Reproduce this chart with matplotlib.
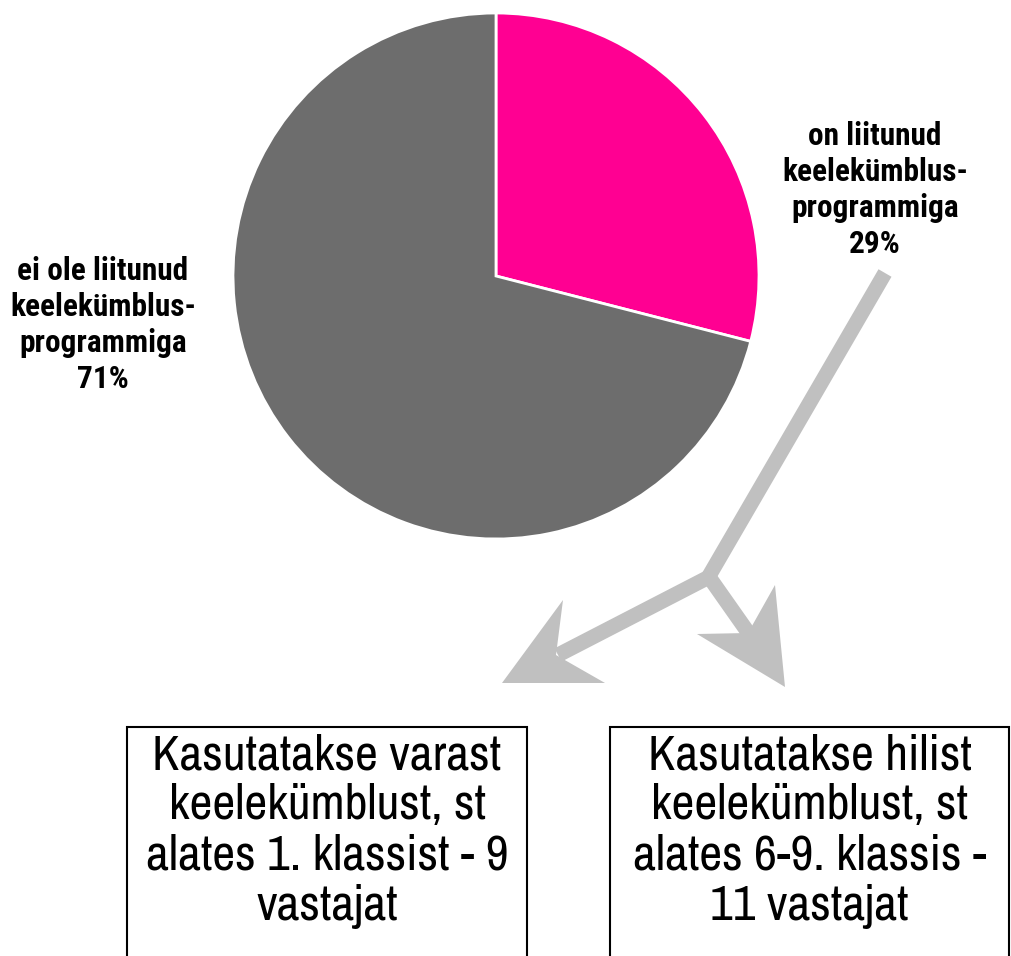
import matplotlib
matplotlib.use("Agg")
import matplotlib.pyplot as plt
from matplotlib.patches import Polygon, Rectangle
import numpy as np

# ---- data ----
categories = ["on liitunud\nkeelekümblus-\nprogrammiga", "ei ole liitunud\nkeelekümblus-\nprogrammiga"]
values = [29, 71]
colors = ["#FF0092", "#6D6D6D"]
box_texts = ["Kasutatakse varast\nkeelekümblust, st\nalates 1. klassist - 9\nvastajat",
             "Kasutatakse hilist\nkeelekümblust, st\nalates 6-9. klassis -\n11 vastajat"]

label_font = ["Roboto Condensed", "DejaVu Sans"]
box_font = ["Archivo Narrow", "DejaVu Sans"]

W, H = 1011, 956
fig = plt.figure(figsize=(W / 100, H / 100), dpi=100)

# overlay axes in pixel coordinates
ov = fig.add_axes([0, 0, 1, 1])
ov.set_xlim(0, W)
ov.set_ylim(H, 0)
ov.axis("off")

# pie axes
cx, cy, r = 496, 276, 263
pax = fig.add_axes([(cx - r) / W, (H - cy - r) / H, 2 * r / W, 2 * r / H])
pax.pie(values, colors=colors, startangle=90, counterclock=False,
        wedgeprops=dict(edgecolor="white", linewidth=2))
pax.set_aspect("equal")
pax.set_xlim(-1, 1)
pax.set_ylim(-1, 1)

# labels
pct = [f"{v}%" for v in values]
ov.text(875, 190, categories[0] + "\n" + pct[0], ha="center", va="center",
        fontsize=22.5, fontweight="bold", family=label_font, linespacing=1.24)
ov.text(103, 325, categories[1] + "\n" + pct[1], ha="center", va="center",
        fontsize=22.5, fontweight="bold", family=label_font, linespacing=1.24)

# arrows
acol = "#C0C0C0"
lw = 15 * 72 / 100
j = (709, 576)
ov.plot([885, j[0]], [273, j[1]], color=acol, lw=lw, solid_capstyle="butt", zorder=1)
ov.plot([j[0] + 2, 558], [j[1], 655], color=acol, lw=lw, solid_capstyle="butt", zorder=1)
ov.plot([j[0] - 2, 752], [j[1] - 2, 638], color=acol, lw=lw, solid_capstyle="butt", zorder=1)
ov.add_patch(Polygon([(502, 683), (563, 600), (556, 655), (605, 683)], closed=True,
                     facecolor=acol, edgecolor="none", zorder=1))
ov.add_patch(Polygon([(785, 687), (775, 585), (748, 633), (697, 634)], closed=True,
                     facecolor=acol, edgecolor="none", zorder=1))

# boxes
for (x0, x1), t in zip([(127, 527), (610, 1009)], box_texts):
    ov.add_patch(Rectangle((x0, 727), x1 - x0, 240, facecolor="white",
                           edgecolor="black", linewidth=1.5, zorder=2))
    ov.text((x0 + x1) / 2, 831, t, ha="center", va="center", fontsize=36,
            family=box_font, linespacing=1.14, zorder=3)

fig.savefig("out.png", dpi=100)
